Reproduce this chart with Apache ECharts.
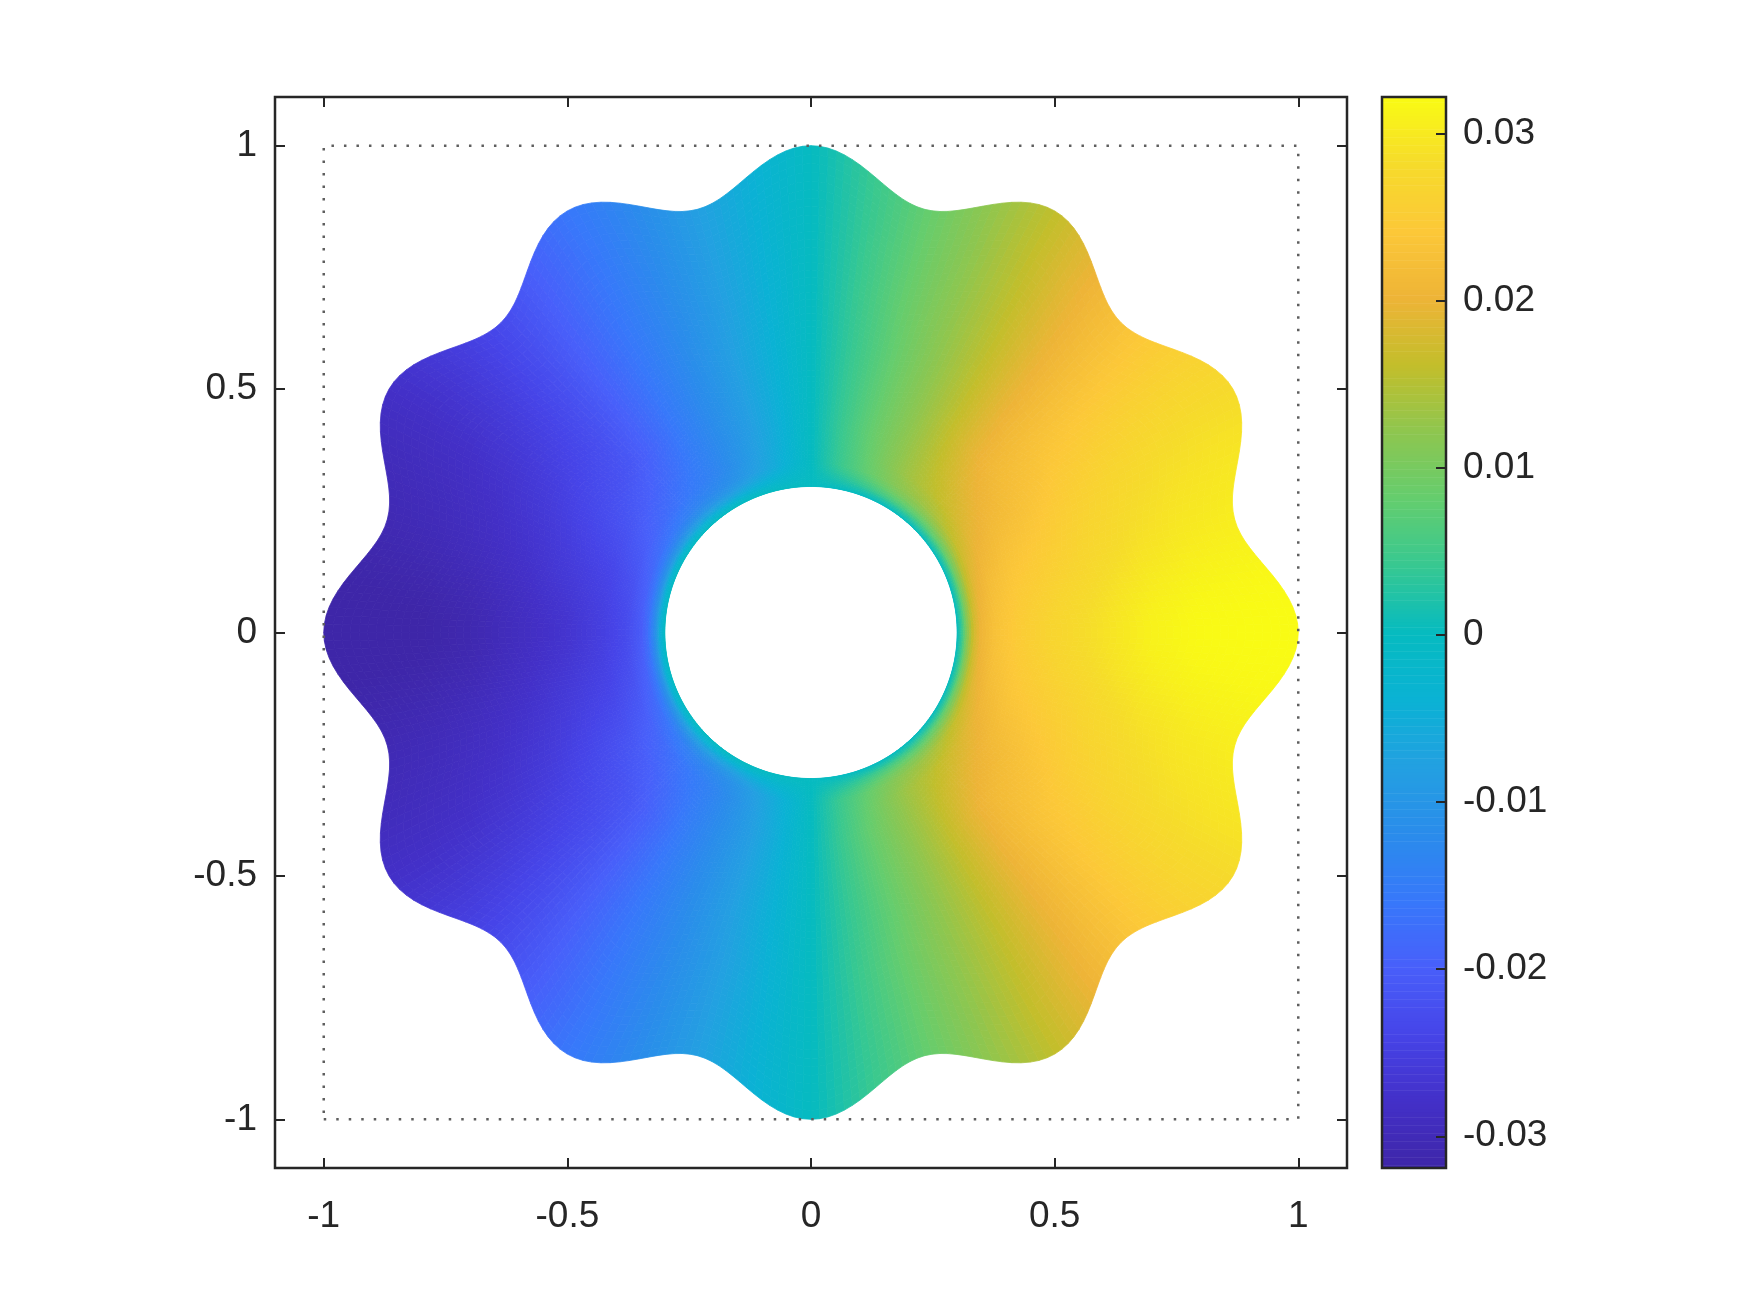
<!doctype html>
<html>
<head>
    <meta charset="utf-8">
    <title>field on a 12-petal annulus</title>
    <style>
        html, body { margin: 0; padding: 0; background: #fff; }
        #chart { width: 1751px; height: 1313px; }
    </style>
</head>
<body>
<div id="chart"></div>
<script src="https://cdn.jsdelivr.net/npm/echarts@6/dist/echarts.min.js"></script>
<script>
    // domain: hole of radius 0.3, wavy outer edge with 12 petals (r between 0.9 and 1)
    var holeRadius = 0.3;
    var petalCount = 12;
    var outerMean = 0.95;
    var petalDepth = 0.05;

    // dotted square
    var frameX = [-1, 1, 1, -1, -1];
    var frameY = [-1, -1, 1, 1, -1];

    // mirrored in y, and with opposite sign for x < 0
    var sampleRadii = [0.30, 0.31, 0.32, 0.335, 0.35, 0.38, 0.43, 0.5, 0.6, 0.7, 0.8, 0.9, 1.0];
    var sampleAngles = [0, 15, 30, 45, 60, 75, 90];
    var u0  = [0, 4, 11, 17.5, 20.5, 23, 25, 27, 29, 31, 32, 32.2, 32.2];
    var u15 = [0, 4, 10.5, 16.5, 19.5, 22, 24, 25.5, 27.5, 29, 30, 30.5, 31];
    var u30 = [0, 3.5, 9, 14, 17, 19.5, 21.5, 23, 25, 26.5, 27.5, 28, 28];
    var u45 = [0, 3, 7, 11.5, 14, 16.5, 18.5, 20.5, 21.5, 22, 22.5, 23, 23];
    var u60 = [0, 2.5, 6, 9.5, 11.5, 13, 13.5, 14, 14.5, 15, 15.5, 16, 16];
    var u75 = [0, 1.5, 3, 5, 6.5, 7, 7.5, 7.5, 7.5, 8, 8, 8, 8.5];
    var u90 = [0, 0, 0, 0, 0, 0, 0, 0, 0, 0, 0, 0, 0];

    // ticks
    var xTicks = [-1, -0.5, 0, 0.5, 1];
    var yTicks = [-1, -0.5, 0, 0.5, 1];
    var cbTicks = [-0.03, -0.02, -0.01, 0, 0.01, 0.02, 0.03];
    var cbMin = -0.0319;
    var cbMax = 0.0322;

    // parula as seen on the colour bar, bottom to top
    var parula = ['#3e26a8', '#4330c8', '#4644e8', '#485ffa', '#3778fa', '#2a8ceb', '#23a0e1', '#0ab2d4',
        '#06bbc0', '#37c891', '#64cd6e', '#8ec64f', '#c3be2b', '#eeb437', '#fcc838', '#f6db2b', '#f9fb14'];

    var ink = '#262626';
    var font = 'Liberation Sans, Arial, Helvetica, sans-serif';

    var rows = [u0, u15, u30, u45, u60, u75, u90];

    function radialAt(row, r) {
        if (r <= sampleRadii[0]) return row[0];
        for (var k = 1; k < sampleRadii.length; k++) {
            if (r <= sampleRadii[k]) {
                var f = (r - sampleRadii[k - 1]) / (sampleRadii[k] - sampleRadii[k - 1]);
                return row[k - 1] + f * (row[k] - row[k - 1]);
            }
        }
        return row[row.length - 1];
    }

    function fieldAt(x, y) {
        var r = Math.sqrt(x * x + y * y);
        var phi = Math.atan2(Math.abs(y), Math.abs(x)) * 180 / Math.PI;
        var v = rows.map(function (row) { return radialAt(row, r); });
        var ext = [v[1]].concat(v, [-v[5]]);
        var step = sampleAngles[1] - sampleAngles[0];
        var k = Math.min(Math.floor(phi / step), sampleAngles.length - 2);
        var t = phi / step - k;
        var p0 = ext[k], p1 = ext[k + 1], p2 = ext[k + 2], p3 = ext[k + 3];
        var val = 0.5 * (2 * p1 + (-p0 + p2) * t + (2 * p0 - 5 * p1 + 4 * p2 - p3) * t * t
            + (-p0 + 3 * p1 - 3 * p2 + p3) * t * t * t);
        return (x < 0 ? -val : val) / 1000;
    }

    // polar mesh over the domain
    var nTheta = 360, nRad = 64;
    var nodes = [];
    for (var j = 0; j <= nTheta; j++) {
        var th = 2 * Math.PI * j / nTheta;
        var R = outerMean + petalDepth * Math.cos(petalCount * th);
        var ring = [];
        for (var i = 0; i <= nRad; i++) {
            var r = holeRadius + Math.pow(i / nRad, 1.7) * (R - holeRadius);
            ring.push([r * Math.cos(th), r * Math.sin(th)]);
        }
        nodes.push(ring);
    }
    var cells = [];
    for (j = 0; j < nTheta; j++) {
        for (i = 0; i < nRad; i++) {
            var a = nodes[j][i], b = nodes[j + 1][i], c = nodes[j + 1][i + 1], d = nodes[j][i + 1];
            var cx = (a[0] + b[0] + c[0] + d[0]) / 4;
            var cy = (a[1] + b[1] + c[1] + d[1]) / 4;
            cells.push([cx, cy, fieldAt(cx, cy), j, i]);
        }
    }

    // colour bar strips
    var cbSteps = 400;
    var cbData = [];
    for (var s = 0; s < cbSteps; s++) {
        var v = cbMin + (s + 0.5) * (cbMax - cbMin) / cbSteps;
        cbData.push([0.5, v, v]);
    }

    function renderCell(params, api) {
        var jj = api.value(3), ii = api.value(4);
        var pts = [nodes[jj][ii], nodes[jj + 1][ii], nodes[jj + 1][ii + 1], nodes[jj][ii + 1]].map(function (p) {
            return api.coord(p);
        });
        var col = api.visual('color');
        return {
            type: 'polygon',
            shape: { points: pts },
            style: { fill: col, stroke: col, lineWidth: 0.8 },
            silent: true
        };
    }

    function renderStrip(params, api) {
        var h = (cbMax - cbMin) / cbSteps;
        var v = api.value(1);
        var p0 = api.coord([0, v + h / 2]);
        var p1 = api.coord([1, v - h / 2]);
        var col = api.visual('color');
        return {
            type: 'rect',
            shape: { x: p0[0], y: p0[1], width: p1[0] - p0[0], height: p1[1] - p0[1] + 0.5 },
            style: { fill: col },
            silent: true
        };
    }

    function tickStyle(values) {
        return { inside: true, length: 10, lineStyle: { color: ink, width: 2 }, customValues: values };
    }

    function axisBase(extra) {
        var o = {
            type: 'value',
            axisLine: { show: false, onZero: false },
            splitLine: { show: false },
            axisLabel: { show: false }
        };
        for (var key in extra) o[key] = extra[key];
        return o;
    }

    function labels(values, margin, pad) {
        return { show: true, margin: margin, customValues: values, color: ink, fontSize: 37,
            fontFamily: font, padding: pad };
    }

    var chart = echarts.init(document.getElementById('chart'));
    var option = {
        animation: false,
        backgroundColor: '#fff',
        grid: [
            { left: 275, top: 97, width: 1072, height: 1071, show: true, borderColor: ink, borderWidth: 2.5, z: 5 },
            { left: 1382, top: 97, width: 64, height: 1071, show: true, borderColor: ink, borderWidth: 2.5, z: 5 }
        ],
        xAxis: [
            axisBase({
                gridIndex: 0, min: -1.1, max: 1.1, position: 'bottom', z: 5,
                axisTick: tickStyle(xTicks),
                axisLabel: labels(xTicks, 30, [0, 0, 0, 0])
            }),
            axisBase({
                gridIndex: 0, min: -1.1, max: 1.1, position: 'top', z: 5,
                axisTick: tickStyle(xTicks)
            }),
            axisBase({ gridIndex: 1, min: 0, max: 1, show: false })
        ],
        yAxis: [
            axisBase({
                gridIndex: 0, min: -1.1, max: 1.1, position: 'left', z: 5,
                axisTick: tickStyle(yTicks),
                axisLabel: labels(yTicks, 18, [16, 0, 0, 0])
            }),
            axisBase({
                gridIndex: 0, min: -1.1, max: 1.1, position: 'right', z: 5,
                axisTick: tickStyle(yTicks)
            }),
            axisBase({
                gridIndex: 1, min: cbMin, max: cbMax, position: 'right', z: 6,
                axisTick: tickStyle(cbTicks),
                axisLabel: labels(cbTicks, 17, [12, 0, 0, 0])
            })
        ],
        visualMap: {
            show: false,
            type: 'continuous',
            min: cbMin,
            max: cbMax,
            dimension: 2,
            seriesIndex: [0, 2],
            inRange: { color: parula }
        },
        series: [
            {
                type: 'custom',
                xAxisIndex: 0,
                yAxisIndex: 0,
                renderItem: renderCell,
                data: cells,
                encode: { x: 0, y: 1 },
                progressive: 0,
                silent: true,
                z: 2
            },
            {
                type: 'line',
                xAxisIndex: 0,
                yAxisIndex: 0,
                data: frameX.map(function (x, k) { return [x, frameY[k]]; }),
                symbol: 'none',
                lineStyle: { color: '#5e5e5e', width: 2.5, type: [2.5, 10] },
                silent: true,
                z: 3
            },
            {
                type: 'custom',
                xAxisIndex: 2,
                yAxisIndex: 2,
                renderItem: renderStrip,
                data: cbData,
                encode: { x: 0, y: 1 },
                progressive: 0,
                silent: true,
                z: 1
            }
        ]
    };
    chart.setOption(option);
</script>
</body>
</html>
